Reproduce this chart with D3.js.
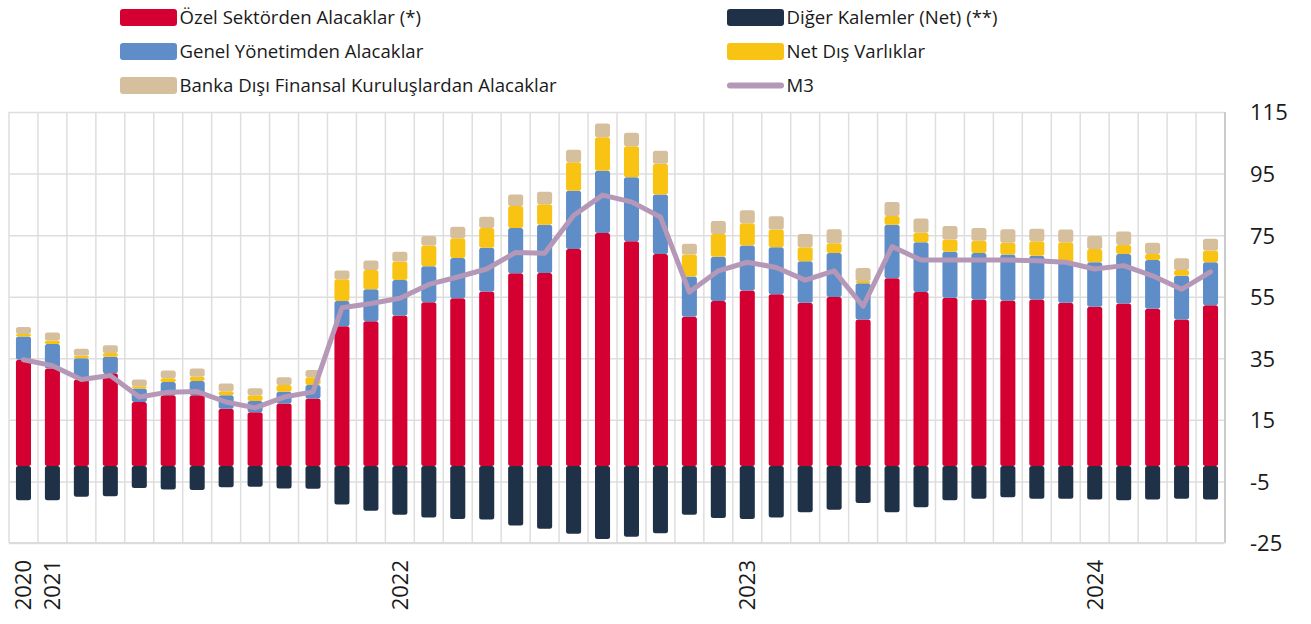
<!DOCTYPE html>
<html>
<head>
<meta charset="utf-8">
<script src="https://cdn.jsdelivr.net/npm/d3@7"></script>
<style>
  body { margin: 0; background: #fff; }
  svg text { font-family: "Open Sans", sans-serif; }
  .grid line { stroke: #dedede; stroke-width: 1.5; }
  .axis text { font-size: 22px; fill: #1a1a1a; }
  .legend text { font-size: 18.6px; fill: #1a1a1a; }
</style>
</head>
<body>
<div id="chart"></div>
<script>
var svgWidth = 1311;
var svgHeight = 624;

var margin = { top: 112, right: 86, bottom: 81, left: 9 };
var width = svgWidth - margin.left - margin.right;
var height = svgHeight - margin.top - margin.bottom;

// categories: 2020 then monthly 2021-01 .. 2024-05
var months = ["2020"];
[2021, 2022, 2023, 2024].forEach(function(yr) {
  var last = yr === 2024 ? 5 : 12;
  for (var m = 1; m <= last; m++) months.push(yr + "-" + (m < 10 ? "0" + m : m));
});
var yearLabels = { "2020": "2020", "2021-01": "2021", "2022-01": "2022", "2023-01": "2023", "2024-01": "2024" };
var yTicks = [-25, -5, 15, 35, 55, 75, 95, 115];

var ozel = [34.5, 31.7, 28.1, 30.1, 20.8, 23.0, 23.0, 18.6, 17.5, 20.3, 21.9, 45.4, 47.0, 48.9, 53.2, 54.5, 56.7, 62.6, 62.7, 70.5, 75.7, 73.0, 68.9, 48.5, 53.6, 57.0, 55.8, 53.0, 54.9, 47.6, 61.0, 56.5, 54.7, 54.1, 53.8, 54.1, 53.0, 51.7, 52.8, 51.1, 47.6, 52.2];
var genel = [7.6, 7.9, 6.9, 5.4, 4.4, 4.3, 4.6, 4.4, 3.6, 3.8, 4.4, 8.2, 10.4, 11.5, 11.7, 13.1, 14.2, 14.7, 15.7, 18.9, 20.2, 20.8, 19.3, 13.1, 14.4, 14.6, 15.3, 13.5, 14.3, 11.8, 17.4, 16.2, 14.9, 15.1, 14.9, 14.2, 13.2, 14.5, 16.1, 15.8, 14.2, 14.0];
var netDis = [0.8, 1.2, 0.8, 1.2, 0.7, 1.2, 1.4, 1.3, 1.9, 2.2, 2.5, 7.1, 6.3, 6.0, 6.7, 6.4, 6.4, 7.2, 6.6, 9.3, 10.9, 10.1, 10.0, 7.1, 7.4, 7.3, 5.7, 4.6, 3.2, 0.7, 2.8, 3.1, 4.0, 4.0, 3.8, 4.7, 6.5, 4.3, 2.9, 2.0, 1.9, 3.8];
var bankaDisi = [2.3, 2.6, 2.3, 2.5, 2.2, 2.5, 2.7, 2.5, 2.3, 2.5, 2.4, 2.8, 3.1, 3.2, 3.1, 3.7, 3.7, 3.7, 4.1, 4.0, 4.5, 4.4, 4.2, 3.5, 4.2, 4.2, 4.3, 4.3, 4.5, 4.2, 4.6, 4.6, 4.4, 4.1, 4.4, 4.1, 4.1, 4.2, 4.4, 3.6, 3.8, 3.8];
var diger = [-11.1, -11.1, -10.0, -9.8, -7.1, -7.6, -7.8, -6.9, -6.7, -7.3, -7.4, -12.5, -14.5, -15.8, -16.7, -17.2, -17.4, -19.3, -20.4, -22.0, -23.7, -23.0, -21.8, -15.8, -16.9, -17.2, -16.7, -15.0, -14.2, -12.0, -15.0, -13.4, -11.1, -10.6, -10.1, -10.6, -10.6, -10.9, -11.1, -10.9, -10.6, -10.9];
var m3 = [34.5, 32.6, 28.1, 29.4, 22.4, 24.0, 24.2, 20.8, 18.9, 22.4, 24.1, 51.4, 52.8, 54.5, 59.0, 61.4, 64.0, 69.4, 69.1, 81.4, 88.0, 85.8, 80.9, 56.5, 63.4, 66.2, 64.5, 60.4, 63.4, 51.9, 71.3, 66.9, 66.9, 66.9, 66.9, 66.7, 66.2, 64.0, 65.1, 61.8, 57.4, 63.1];

var keys = ["ozel", "genel", "netDis", "bankaDisi", "diger"];
var colors = { ozel: "#d50032", genel: "#5f8dc7", netDis: "#f9c314", bankaDisi: "#d6bf9c", diger: "#1e3147" };
var m3Color = "#b597b8";

var rows = months.map(function(m, i) {
  return { month: m, ozel: ozel[i], genel: genel[i], netDis: netDis[i], bankaDisi: bankaDisi[i], diger: diger[i], m3: m3[i] };
});

var svg = d3.select("#chart")
  .append("svg")
  .attr("width", svgWidth)
  .attr("height", svgHeight);

var chartGroup = svg.append("g")
  .attr("transform", `translate(${margin.left}, ${margin.top})`);

var x = d3.scaleBand()
  .domain(months)
  .range([0, width])
  .paddingInner(0.48)
  .paddingOuter(0.24);

var y = d3.scaleLinear()
  .domain([-25, 115])
  .range([height, 0]);

// vertical grid at band edges
chartGroup.append("g")
  .attr("class", "grid")
  .selectAll("line")
  .data(d3.range(months.length + 1))
  .enter()
  .append("line")
  .attr("x1", d => d * x.step())
  .attr("x2", d => d * x.step())
  .attr("y1", 0)
  .attr("y2", height);

// right axis with horizontal grid
var rightAxis = d3.axisRight(y)
  .tickValues(yTicks)
  .tickSize(-width)
  .tickPadding(25)
  .tickFormat(d => String(d));

var yAxisG = chartGroup.append("g")
  .attr("class", "axis grid")
  .attr("transform", `translate(${width}, 0)`)
  .call(rightAxis);
yAxisG.select(".domain").remove();
yAxisG.selectAll("text").attr("dy", "0.36em");

// plot frame right / bottom
chartGroup.append("line")
  .attr("x1", width).attr("x2", width)
  .attr("y1", 0).attr("y2", height)
  .attr("stroke", "#cccccc").attr("stroke-width", 2);
chartGroup.append("line")
  .attr("x1", 0).attr("x2", width)
  .attr("y1", height).attr("y2", height)
  .attr("stroke", "#dcdcdc").attr("stroke-width", 2);

// stacked bars
var stack = d3.stack().keys(keys).offset(d3.stackOffsetDiverging);
var series = stack(rows);

chartGroup.append("g")
  .selectAll("g")
  .data(series)
  .enter()
  .append("g")
  .attr("fill", d => colors[d.key])
  .selectAll("rect")
  .data(d => d)
  .enter()
  .append("rect")
  .attr("x", d => x(d.data.month))
  .attr("y", d => y(Math.max(d[0], d[1])))
  .attr("height", d => Math.abs(y(d[0]) - y(d[1])))
  .attr("width", x.bandwidth())
  .attr("rx", 2.5);

// M3 line
var line = d3.line()
  .x(d => x(d.month) + x.bandwidth() / 2)
  .y(d => y(d.m3));

chartGroup.append("path")
  .datum(rows)
  .attr("d", line)
  .attr("fill", "none")
  .attr("stroke", m3Color)
  .attr("stroke-width", 5)
  .attr("stroke-linejoin", "round")
  .attr("stroke-linecap", "round");

// bottom axis, year labels only
var bottomAxis = d3.axisBottom(x)
  .tickSize(0)
  .tickFormat(d => yearLabels[d] || "");

var xAxisG = chartGroup.append("g")
  .attr("class", "axis")
  .attr("transform", `translate(0, ${height})`)
  .call(bottomAxis);
xAxisG.select(".domain").remove();
xAxisG.selectAll("text")
  .attr("transform", "rotate(-90)")
  .attr("text-anchor", "end")
  .attr("x", -17)
  .attr("y", 0)
  .attr("dy", "0.36em");

// legend
var legendItems = [
  { label: "Özel Sektörden Alacaklar (*)", key: "ozel", col: 0, row: 0 },
  { label: "Genel Yönetimden Alacaklar", key: "genel", col: 0, row: 1 },
  { label: "Banka Dışı Finansal Kuruluşlardan Alacaklar", key: "bankaDisi", col: 0, row: 2 },
  { label: "Diğer Kalemler (Net) (**)", key: "diger", col: 1, row: 0 },
  { label: "Net Dış Varlıklar", key: "netDis", col: 1, row: 1 },
  { label: "M3", key: "m3", col: 1, row: 2 }
];
var colX = [120, 727];
var swatchW = 57;

var legend = svg.append("g").attr("class", "legend");
var item = legend.selectAll("g")
  .data(legendItems)
  .enter()
  .append("g")
  .attr("transform", d => `translate(${colX[d.col]}, ${17.5 + d.row * 34})`);

item.filter(d => d.key !== "m3")
  .append("rect")
  .attr("x", 0)
  .attr("y", -8.5)
  .attr("width", swatchW)
  .attr("height", 17)
  .attr("rx", 3)
  .attr("fill", d => colors[d.key]);

item.filter(d => d.key === "m3")
  .append("line")
  .attr("x1", 3).attr("x2", swatchW - 3)
  .attr("y1", 0).attr("y2", 0)
  .attr("stroke", m3Color)
  .attr("stroke-width", 6)
  .attr("stroke-linecap", "round");

item.append("text")
  .attr("x", swatchW + 2.5)
  .attr("y", 0)
  .attr("dy", "0.35em")
  .text(d => d.label);
</script>
</body>
</html>
